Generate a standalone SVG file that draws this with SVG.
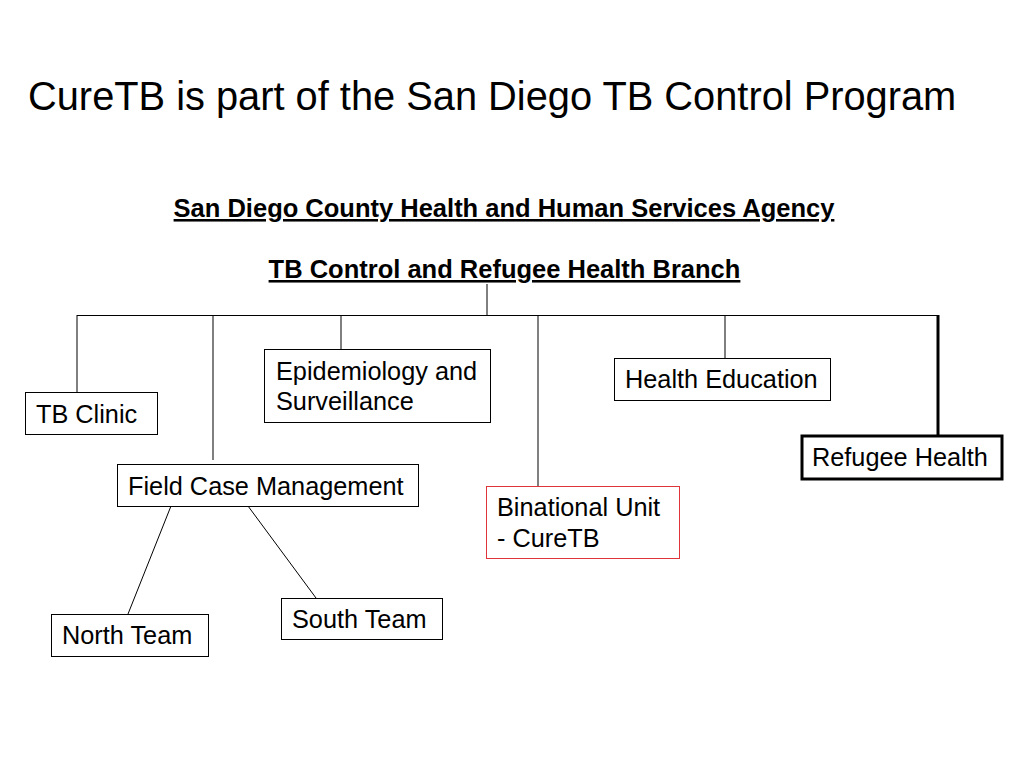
<svg xmlns="http://www.w3.org/2000/svg" width="1024" height="768" viewBox="0 0 1024 768">
<style>
text{font-family:"Liberation Sans",Arial,sans-serif;fill:#000}
.title{font-size:39.8px}
.head{font-size:25.5px;font-weight:bold;text-decoration:underline}
.lbl{font-size:25.3px}
.box{fill:#fff;stroke:#000;stroke-width:1}
.con line{stroke:#000;stroke-width:1}
</style>
<rect width="1024" height="768" fill="#fff"/>
<text class="title" x="28" y="110">CureTB is part of the San Diego TB Control Program</text>
<g id="agency"><text class="head" x="504" y="217" text-anchor="middle">San Diego County Health and Human Services Agency</text></g>
<g id="branch"><text class="head" x="504.5" y="278" text-anchor="middle">TB Control and Refugee Health Branch</text></g>
<g class="con" id="connectors">
<line x1="487" y1="284" x2="487" y2="315.5"/>
<line x1="77" y1="315.5" x2="939" y2="315.5"/>
<line x1="77" y1="315" x2="77" y2="392"/>
<line x1="213" y1="315" x2="213" y2="460"/>
<line x1="341" y1="315" x2="341" y2="350"/>
<line x1="538" y1="315" x2="538" y2="486"/>
<line x1="725" y1="315" x2="725" y2="358"/>
<line x1="938" y1="315" x2="938" y2="436" style="stroke-width:3"/>
<line x1="171" y1="506" x2="128" y2="614"/>
<line x1="248" y1="506" x2="316" y2="598"/>
</g>
<g id="tbclinic"><rect class="box" x="25.5" y="392.5" width="132" height="42"/><text class="lbl" x="36" y="423">TB Clinic</text></g>
<g id="epi"><rect class="box" x="264.5" y="349.5" width="226" height="73"/><text class="lbl" x="276" y="380">Epidemiology and</text><text class="lbl" x="276" y="410">Surveillance</text></g>
<g id="healthed"><rect class="box" x="614.5" y="358.5" width="216" height="42"/><text class="lbl" x="625" y="388">Health Education</text></g>
<g id="refugee"><rect class="box" x="802" y="436" width="200" height="43" style="stroke-width:3"/><text class="lbl" x="812" y="466">Refugee Health</text></g>
<g id="fieldcase"><rect class="box" x="117.5" y="464.5" width="301" height="42"/><text class="lbl" x="128" y="495">Field Case Management</text></g>
<g id="binational"><rect class="box" x="486.5" y="486.5" width="193" height="72" style="stroke:#e0343c"/><text class="lbl" x="497" y="516">Binational Unit</text><text class="lbl" x="497" y="547">- CureTB</text></g>
<g id="north"><rect class="box" x="51.5" y="614.5" width="157" height="42"/><text class="lbl" x="62" y="644">North Team</text></g>
<g id="south"><rect class="box" x="281.5" y="598.5" width="161" height="41"/><text class="lbl" x="292" y="628">South Team</text></g>
</svg>
